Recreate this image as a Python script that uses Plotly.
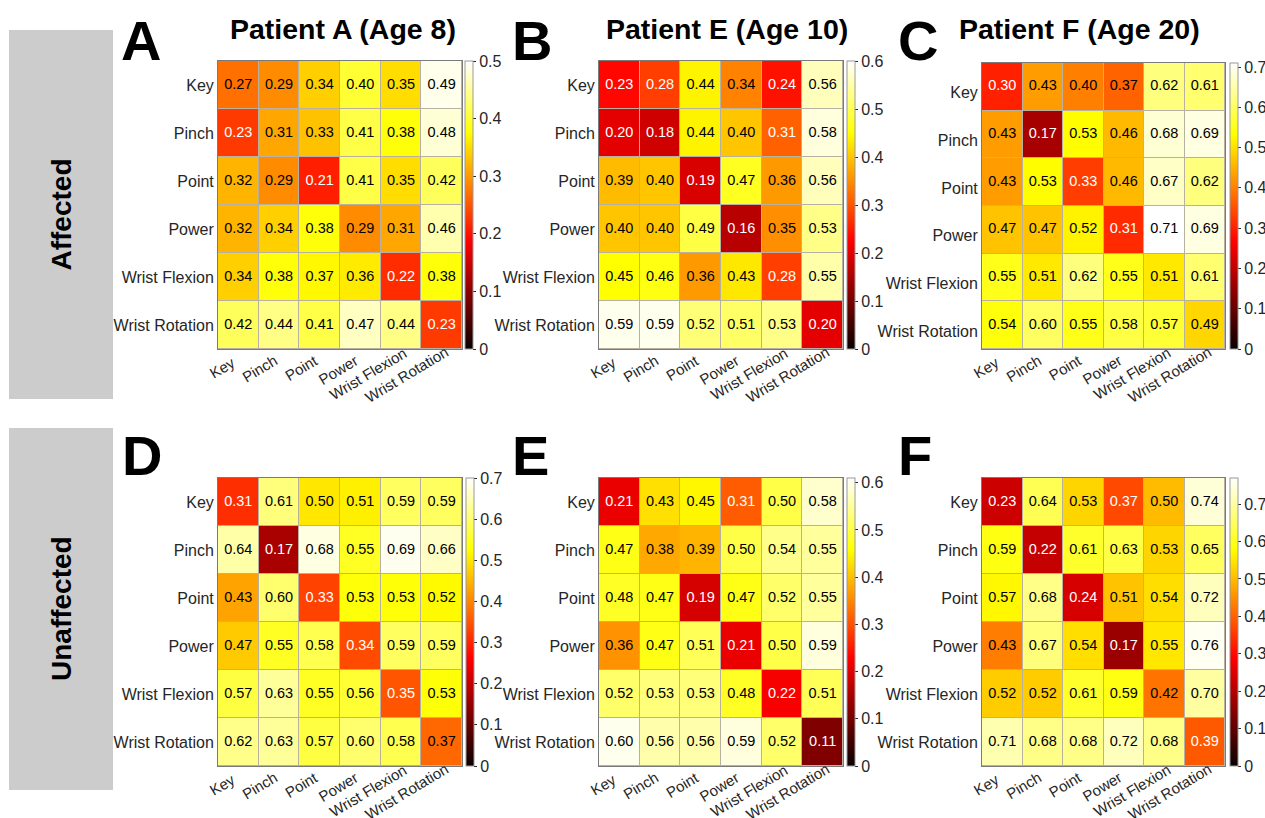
import plotly.graph_objects as go

W, H = 1265, 818

labels = ["Key", "Pinch", "Point", "Power", "Wrist Flexion", "Wrist Rotation"]

patient_a_affected = [
    [0.27, 0.29, 0.34, 0.40, 0.35, 0.49],
    [0.23, 0.31, 0.33, 0.41, 0.38, 0.48],
    [0.32, 0.29, 0.21, 0.41, 0.35, 0.42],
    [0.32, 0.34, 0.38, 0.29, 0.31, 0.46],
    [0.34, 0.38, 0.37, 0.36, 0.22, 0.38],
    [0.42, 0.44, 0.41, 0.47, 0.44, 0.23],
]
patient_e_affected = [
    [0.23, 0.28, 0.44, 0.34, 0.24, 0.56],
    [0.20, 0.18, 0.44, 0.40, 0.31, 0.58],
    [0.39, 0.40, 0.19, 0.47, 0.36, 0.56],
    [0.40, 0.40, 0.49, 0.16, 0.35, 0.53],
    [0.45, 0.46, 0.36, 0.43, 0.28, 0.55],
    [0.59, 0.59, 0.52, 0.51, 0.53, 0.20],
]
patient_f_affected = [
    [0.30, 0.43, 0.40, 0.37, 0.62, 0.61],
    [0.43, 0.17, 0.53, 0.46, 0.68, 0.69],
    [0.43, 0.53, 0.33, 0.46, 0.67, 0.62],
    [0.47, 0.47, 0.52, 0.31, 0.71, 0.69],
    [0.55, 0.51, 0.62, 0.55, 0.51, 0.61],
    [0.54, 0.60, 0.55, 0.58, 0.57, 0.49],
]
patient_a_unaffected = [
    [0.31, 0.61, 0.50, 0.51, 0.59, 0.59],
    [0.64, 0.17, 0.68, 0.55, 0.69, 0.66],
    [0.43, 0.60, 0.33, 0.53, 0.53, 0.52],
    [0.47, 0.55, 0.58, 0.34, 0.59, 0.59],
    [0.57, 0.63, 0.55, 0.56, 0.35, 0.53],
    [0.62, 0.63, 0.57, 0.60, 0.58, 0.37],
]
patient_e_unaffected = [
    [0.21, 0.43, 0.45, 0.31, 0.50, 0.58],
    [0.47, 0.38, 0.39, 0.50, 0.54, 0.55],
    [0.48, 0.47, 0.19, 0.47, 0.52, 0.55],
    [0.36, 0.47, 0.51, 0.21, 0.50, 0.59],
    [0.52, 0.53, 0.53, 0.48, 0.22, 0.51],
    [0.60, 0.56, 0.56, 0.59, 0.52, 0.11],
]
patient_f_unaffected = [
    [0.23, 0.64, 0.53, 0.37, 0.50, 0.74],
    [0.59, 0.22, 0.61, 0.63, 0.53, 0.65],
    [0.57, 0.68, 0.24, 0.51, 0.54, 0.72],
    [0.43, 0.67, 0.54, 0.17, 0.55, 0.76],
    [0.52, 0.52, 0.61, 0.59, 0.42, 0.70],
    [0.71, 0.68, 0.68, 0.72, 0.68, 0.39],
]

color_max = [0.50, 0.60, 0.71, 0.70, 0.61, 0.77]
panel_letters = ["A", "B", "C", "D", "E", "F"]
titles = ["Patient A (Age 8)", "Patient E (Age 10)", "Patient F (Age 20)"]
row_names = ["Affected", "Unaffected"]

matrices = [patient_a_affected, patient_e_affected, patient_f_affected,
            patient_a_unaffected, patient_e_unaffected, patient_f_unaffected]

hot = [[0.0, "rgb(10,0,0)"], [0.375, "rgb(255,0,0)"],
       [0.75, "rgb(255,255,0)"], [1.0, "rgb(255,255,255)"]]

FONT = "Liberation Sans, Arial, Helvetica, sans-serif"
TXT = "#262626"

# pixel geometry: (x0, x1, y0, y1, colorbar_x, y-label shift)
geom = [
    (218, 462, 61, 349, 465, 0),
    (599, 843, 61, 349, 847, 0),
    (982, 1225, 63, 349, 1230, -6),
    (218, 462, 478, 766, 466, 0),
    (599, 843, 478, 766, 847, 0),
    (982, 1225, 478, 766, 1230, 0),
]

fig = go.Figure()
layout = {}
annotations = []

for i, (z, zmax, g) in enumerate(zip(matrices, color_max, geom)):
    x0, x1, y0, y1, cbx, yshift_lab = g
    sfx = "" if i == 0 else str(i + 1)
    fig.add_trace(go.Heatmap(
        z=z, x=labels, y=labels, zmin=0, zmax=zmax, colorscale=hot,
        xgap=1, ygap=1, xaxis="x" + sfx, yaxis="y" + sfx, hoverinfo="skip",
        colorbar=dict(
            x=cbx / W, xanchor="left", xpad=0, ypad=0,
            thickness=8, thicknessmode="pixels",
            len=(y1 - y0) / H, lenmode="fraction",
            y=1 - (y0 + y1) / 2 / H, yanchor="middle",
            tick0=0, dtick=0.1, ticks="outside", ticklen=3, tickcolor=TXT,
            outlinewidth=1, outlinecolor="#9a9a9a",
            tickfont=dict(family=FONT, size=16, color=TXT),
        ),
    ))
    xs, ys, ts, cs = [], [], [], []
    for r, row in enumerate(z):
        for c, v in enumerate(row):
            xs.append(labels[c])
            ys.append(labels[r])
            ts.append(f"{v:.2f}")
            cs.append("white" if v / zmax < 0.518 else "black")
    fig.add_trace(go.Scatter(
        x=xs, y=ys, text=ts, mode="text", xaxis="x" + sfx, yaxis="y" + sfx,
        textfont=dict(family=FONT, size=14.5, color=cs), hoverinfo="skip",
        showlegend=False,
    ))
    layout["xaxis" + sfx] = dict(
        domain=[x0 / W, x1 / W], anchor="y" + sfx, range=[-0.5, 5.5],
        showticklabels=False, showgrid=False, zeroline=False, showline=True,
        mirror=True, linecolor="#7a7a7a", linewidth=1, ticks="",
        fixedrange=True, type="category", automargin=False,
    )
    layout["yaxis" + sfx] = dict(
        domain=[1 - y1 / H, 1 - y0 / H], anchor="x" + sfx, range=[5.5, -0.5],
        showgrid=False, zeroline=False, showline=True, mirror=True,
        linecolor="#7a7a7a", linewidth=1, ticks="", ticklabelshift=yshift_lab,
        tickfont=dict(family=FONT, size=16, color=TXT), fixedrange=True,
        type="category", automargin=False,
    )
    # rotated x tick labels, placed on the category axis
    for lab in labels:
        n = len(lab) - 3
        annotations.append(dict(
            text=lab, x=lab, xref="x" + sfx, y=0, yref="y" + sfx + " domain",
            xanchor="right", yanchor="top", textangle=-31, showarrow=False,
            xshift=1 + 0.9 * n, yshift=-3 + 0.9 * n, borderpad=0,
            font=dict(family=FONT, size=15, color=TXT),
        ))

# titles
for t, cx in zip(titles, [343, 727, 1079]):
    annotations.append(dict(text="<b>" + t + "</b>", x=cx / W, y=1 - 29 / H,
                            xref="paper", yref="paper", showarrow=False,
                            xanchor="center", yanchor="middle",
                            font=dict(family=FONT, size=28.5, color="black")))
# panel letters
letter_pos = [(119, 40), (510, 40), (896, 40), (120, 455), (510, 455), (896, 455)]
for L, (lx, ly) in zip(panel_letters, letter_pos):
    annotations.append(dict(text="<b>" + L + "</b>", x=lx / W, y=1 - ly / H,
                            xref="paper", yref="paper", showarrow=False,
                            xanchor="left", yanchor="middle",
                            font=dict(family=FONT, size=56, color="black")))
# row group boxes
shapes = []
boxes = [(9, 113, 30, 399), (9, 113, 428, 790)]
for name, (bx0, bx1, by0, by1) in zip(row_names, boxes):
    shapes.append(dict(type="rect", xref="paper", yref="paper",
                       x0=bx0 / W, x1=bx1 / W, y0=1 - by1 / H, y1=1 - by0 / H,
                       fillcolor="#cccccc", line=dict(width=0), layer="below"))
    annotations.append(dict(text="<b>" + name + "</b>", x=(bx0 + bx1) / 2 / W,
                            y=1 - (by0 + by1) / 2 / H, xref="paper", yref="paper",
                            showarrow=False, textangle=-90,
                            xanchor="center", yanchor="middle",
                            font=dict(family=FONT, size=28, color="black")))

fig.update_layout(
    width=W, height=H,
    margin=dict(l=0, r=0, t=0, b=0, pad=0, autoexpand=False),
    paper_bgcolor="white", plot_bgcolor="#b8b0a0",
    showlegend=False, annotations=annotations, shapes=shapes,
    **layout,
)

fig.write_html("out.html", config={"displayModeBar": False},
               post_script="document.body.style.margin='0px';"
                           "document.body.style.overflow='hidden';")
